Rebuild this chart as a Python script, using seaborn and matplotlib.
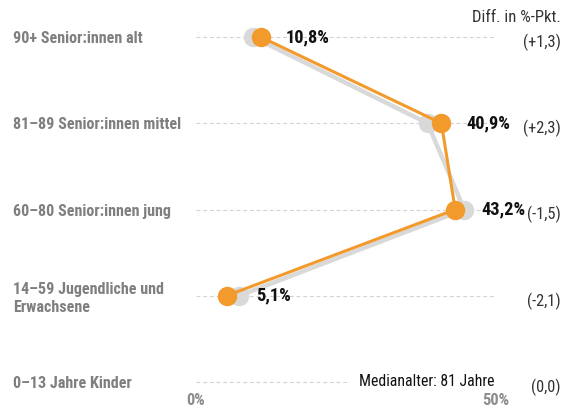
import numpy as np
import pandas as pd
import seaborn as sns
import matplotlib.pyplot as plt
from matplotlib import transforms

# Daten
gruppen = ["90+ Senior:innen alt", "81–89 Senior:innen mittel", "60–80 Senior:innen jung",
           "14–59 Jugendliche und\nErwachsene", "0–13 Jahre Kinder"]
anteil = [10.8, 40.9, 43.2, 5.1, np.nan]
diff = [1.3, 2.3, -1.5, -2.1, 0.0]
x_ticks = [0, 50]
x_labels = ["0%", "50%"]

vorher = [a - d for a, d in zip(anteil, diff)]
df = pd.DataFrame({"gruppe": gruppen, "pos": range(len(gruppen)),
                   "jetzt": anteil, "vorher": vorher, "diff": diff})
df_plot = df.dropna()

sns.set_style("white")
plt.rcParams["font.family"] = ["Liberation Sans Narrow", "DejaVu Sans Condensed",
                               "Roboto Condensed", "DejaVu Sans"]

orange = "#f39a2c"
grau = "#d9d9d9"

fig = plt.figure(figsize=(5.62, 4.12), dpi=100)
ax = fig.add_axes([196 / 562, 0.031, 300 / 562, 0.921])

# gestrichelte Gitterlinien
for p in df["pos"]:
    ax.plot([0, 50], [p, p], color="#d3d3d3", lw=0.8, ls=(0, (3.5, 2.5)), zorder=0)

# vorher (grau) und jetzt (orange)
sns.lineplot(data=df_plot, x="vorher", y="pos", sort=False, estimator=None,
             color=grau, lw=3.2, marker="o", markersize=14, markeredgewidth=0, ax=ax, zorder=2)
sns.lineplot(data=df_plot, x="jetzt", y="pos", sort=False, estimator=None,
             color=orange, lw=2.2, marker="o", markersize=14, markeredgewidth=0, ax=ax, zorder=3)

# Werte-Beschriftung
for _, r in df_plot.iterrows():
    xx = max(r["jetzt"] + 4.1, r["vorher"] + 2.9)
    ax.text(xx, r["pos"], f"{r['jetzt']:.1f}%".replace(".", ","), fontsize=13.2,
            fontweight="bold", color="#111111", va="center", ha="left")

# Differenzen rechts
rechts = transforms.blended_transform_factory(fig.transFigure, ax.transData)
for _, r in df.iterrows():
    s = "(0,0)" if r["diff"] == 0 else f"({r['diff']:+.1f})".replace(".", ",")
    ax.text(561 / 562, r["pos"] + 0.06, s, transform=rechts, fontsize=11.8,
            color="#333333", va="center", ha="right")

fig.text(561 / 562, 1 - 17 / 412, "Diff. in %-Pkt.", fontsize=12, color="#333333",
         va="center", ha="right")

ax.text(49.8, 4, "Medianalter: 81 Jahre", fontsize=11.3, color="#111111", va="center",
        ha="right", bbox=dict(facecolor="white", edgecolor="none", pad=7), zorder=4)

ax.set_xlim(0, 50)
ax.set_ylim(4.2, -0.2)
ax.set_yticks(df["pos"])
ax.set_yticklabels(df["gruppe"], ha="left", fontsize=11.6, fontweight="bold", color="#7f7f7f")
ax.set_xticks(x_ticks)
ax.set_xticklabels(x_labels, fontsize=11.8, fontweight="bold", color="#8c8c8c")
ax.tick_params(axis="y", length=0, pad=132)
ax.tick_params(axis="x", length=0, pad=-4.5)
ax.xaxis.set_zorder(5)
ax.set_xlabel("")
ax.set_ylabel("")
sns.despine(ax=ax, left=True, bottom=True)

fig.savefig("out.png", dpi=100)
